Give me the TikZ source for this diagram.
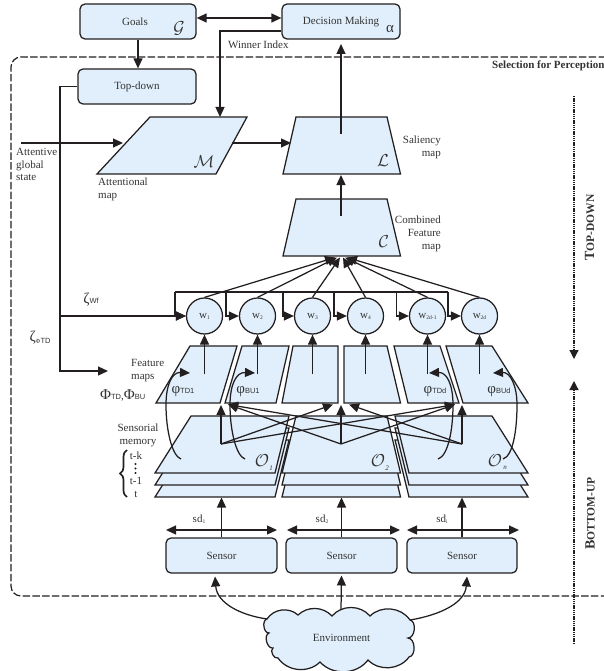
\documentclass[tikz,border=0pt]{standalone}
\usepackage{fontspec}
\setmainfont{Liberation Serif}
\newfontfamily\subsans{Liberation Sans}
\usetikzlibrary{arrows.meta,decorations.pathreplacing}
\definecolor{fillblue}{HTML}{E0EFFB}
\definecolor{ink}{HTML}{231F20}
\definecolor{txt}{HTML}{333333}
\newcommand{\grk}[1]{{\fontsize{15}{15}\selectfont #1}}
\newcommand{\ssub}[1]{{\subsans\fontsize{7.5}{8}\selectfont #1}}
\newcommand{\wsub}[1]{\raisebox{-1pt}{\fontsize{5.5}{6}\selectfont #1}}
\tikzset{
  line/.style={draw=ink,line width=1.25pt},
  arr/.style={line,-{Triangle[length=10pt,width=9pt]}},
  darr/.style={line,{Triangle[length=10pt,width=9pt]}-{Triangle[length=10pt,width=9pt]}},
  box/.style={draw=ink,line width=1.25pt,fill=fillblue,rounded corners=5pt,inner sep=0pt,text=txt,font=\fontsize{11}{13}\selectfont},
  map/.style={draw=ink,line width=1.25pt,fill=fillblue,line join=miter},
  wnode/.style={circle,draw=ink,line width=1.25pt,fill=fillblue,minimum size=36pt,inner sep=0pt,text=txt,font=\fontsize{11}{12}\selectfont},
  tx/.style={text=txt,inner sep=0pt,font=\fontsize{11}{12.6}\selectfont},
  scr/.style={text=txt,inner sep=0pt,font=\fontsize{16}{16}\selectfont},
  osc/.style={text=txt,inner sep=0pt,font=\fontsize{19}{19}\selectfont},
  osb/.style={text=txt,inner sep=0pt,font=\fontsize{7}{7}\selectfont\itshape},
  frame/.style={draw=ink,line width=1.2pt,dash pattern=on 7.5pt off 2.3pt,rounded corners=10pt},
  dotline/.style={draw=ink,line width=1.2pt,dash pattern=on 1.4pt off 0.8pt},
  dottip/.style={-{Triangle[length=9pt,width=9pt]}}
}
\begin{document}
\begin{tikzpicture}[x=1pt,y=-1pt]
\useasboundingbox (0,0) rectangle (604,671);
% frame
\draw[frame] (606,57) -- (11,57) -- (11,596) -- (606,596);
% dotted direction lines
\coordinate (tdA) at (574,96); \coordinate (tdB) at (574,359);
\coordinate (buA) at (574,644); \coordinate (buB) at (574,381);
\draw[dotline,dottip] (tdA) -- (tdB);
\draw[dotline,dottip] (buA) -- (buB);
\node[tx,rotate=90] (tdlabel) at (589.5,227.5) {\textbf{{\fontsize{14}{14}\selectfont T}{\fontsize{11.5}{14}\selectfont OP-DOWN}}};
\node[tx,rotate=90] (bulabel) at (590,513.5) {\textbf{{\fontsize{14}{14}\selectfont B}{\fontsize{11.5}{14}\selectfont OTTOM-UP}}};
\node[tx,anchor=west,font=\fontsize{11}{12}\selectfont\bfseries] (sel) at (492,66) {Selection for Perception};
% boxes
\node[box,minimum width=116pt,minimum height=35pt] (goals) at (138,21.5) {Goals\kern6pt};
\node[box,minimum width=118pt,minimum height=35pt] (dm) at (341,21.5) {Decision Making};
\node[box,minimum width=118pt,minimum height=35pt] (top) at (137,86.5) {Top-down};
\node[scr] (gl) at (179,28) {$\mathcal{G}$};
\node[tx,font=\fontsize{15}{15}\selectfont] (al) at (390,29) {α};
% maps
\draw[map] (150,117) -- (247,117) -- (216,174) -- (97,174) -- cycle;
\draw[map] (296,117) -- (387,117) -- (400.5,174) -- (283,174) -- cycle;
\draw[map] (296,199) -- (387,199) -- (400.5,256) -- (283,256) -- cycle;
\node[scr] (ml) at (204,162) {$\mathcal{M}$};
\node[scr] (ll) at (383,161) {$\mathcal{L}$};
\node[scr] (cl) at (384,242) {$\mathcal{C}$};
% feature maps
\draw[map] (190,346) -- (237,346) -- (220,403) -- (156,403) -- cycle;
\draw[map] (242,346) -- (289,346) -- (276,403) -- (225,403) -- cycle;
\draw[map] (293,346) -- (338,346) -- (338,403) -- (282,403) -- cycle;
\draw[map] (344,346) -- (387,346) -- (400.5,403) -- (344,403) -- cycle;
\draw[map] (394,346) -- (440,346) -- (459,403) -- (408,403) -- cycle;
\draw[map] (446,346) -- (492,346) -- (528,403) -- (463,403) -- cycle;
% sensorial stacks
\foreach \d in {24,12,0}{
  \draw[map] (191,416+\d) -- (289,416+\d) -- (275,473+\d) -- (155,473+\d) -- cycle;
  \draw[map] (296,416+\d) -- (387,416+\d) -- (400.5,473+\d) -- (282,473+\d) -- cycle;
  \draw[map] (395,416+\d) -- (492,416+\d) -- (528,473+\d) -- (409,473+\d) -- cycle;
}
\node[osc] (o1) at (262,461) {$\mathcal{O}$};
\node[osb] (o1s) at (271,468) {1};
\node[osc] (o2) at (378,461) {$\mathcal{O}$};
\node[osb] (o2s) at (387,468) {2};
\node[osc] (o3) at (495,461) {$\mathcal{O}$};
\node[osb] (o3s) at (505,468) {n};
% weights
\node[wnode] (w1) at (204.5,316) {w\wsub{1}};
\node[wnode] (w2) at (257.5,316) {w\wsub{2}};
\node[wnode] (w3) at (312.5,316) {w\wsub{3}};
\node[wnode] (w4) at (365.5,316) {w\wsub{4}};
\node[wnode] (w5) at (427.5,316) {w\wsub{2d-1}};
\node[wnode] (w6) at (479.5,316) {w\wsub{2d}};
% sensors
\node[box,minimum width=111pt,minimum height=35pt] (s1) at (221.5,555.5) {Sensor};
\node[box,minimum width=111pt,minimum height=35pt] (s2) at (341.5,555.5) {Sensor};
\node[box,minimum width=110pt,minimum height=35pt] (s3) at (462,555.5) {Sensor};
% environment cloud
\coordinate (eL) at (267,619); \coordinate (eT) at (341,610); \coordinate (eR) at (410,620);
\path[draw=ink,line width=1.25pt,fill=fillblue]
  (eL) to[bend left=50] (298,615) to[bend left=45] (332,616)
  to[bend left=50] (370,616) to[bend left=50] (eR)
  to[bend left=85] (408,638) to[bend left=85] (409,657)
  to[bend left=50] (368,660) to[bend left=50] (320,662)
  to[bend left=50] (278,658) to[bend left=85] (273,648)
  to[bend left=85] (269,633) to[bend left=85] (eL) -- cycle;
\node[tx,inner sep=0pt] (env) at (341.5,638) {Environment};
% top connectors
\draw[darr] (goals.east |- 0,18) -- (dm.west |- 0,18);
\draw[arr] (goals.south) -- (goals.south |- top.north);
\coordinate (wc) at (220,31); \coordinate (mtop) at (220,117);
\draw[arr] (dm.west |- wc) -- (wc) -- (mtop);
\coordinate (zt) at (60,86.5); \coordinate (zb) at (60,371); \coordinate (fmin) at (108,371); \coordinate (zw) at (60,316);
\draw[arr] (top.west) -- (zt) -- (zb) -- (fmin);
\draw[arr] (zw) -- (w1.west);
\coordinate (agA) at (21,143); \coordinate (agB) at (123,143);
\draw[arr] (agA) -- (agB);
\coordinate (mE) at (232,143); \coordinate (lW) at (291,143);
\draw[arr] (mE) -- (lW);
\coordinate (lS) at (341,134); \coordinate (dS) at (341,44);
\draw[arr] (lS) -- (dS);
\coordinate (cS) at (341,216); \coordinate (lB) at (341,175);
\draw[arr] (cS) -- (lB);
% feedback bus
\coordinate (b1) at (175,292); \coordinate (b2) at (226,292); \coordinate (b3) at (283,292);
\coordinate (b4) at (334,292); \coordinate (b5) at (396.5,292); \coordinate (b6) at (448,292);
\draw[line] (b1) -- (b6);
\foreach \b/\w in {b1/w1,b2/w2,b3/w3,b4/w4,b5/w5,b6/w6}{\draw[arr] (\b) |- (\w.west);}
% into combined map
\coordinate (ct1) at (335,257.5); \coordinate (ct2) at (337,257.5); \coordinate (ct3) at (340,257.5);
\coordinate (ct4) at (343,257.5); \coordinate (ct5) at (345,257.5); \coordinate (ct6) at (347,257.5);
\draw[arr] (w1.north) -- (ct1);
\draw[arr] (w2.north) -- (ct2);
\draw[arr] (w3.north) -- (ct3);
\draw[arr] (w4.north) -- (ct4);
\draw[arr] (w5.north) -- (ct5);
\draw[arr] (w6.north) -- (ct6);
% features to weights
\foreach \x/\w/\n in {204.5/w1/1,257.5/w2/2,312.5/w3/3,365.5/w4/4,427.5/w5/5,479.5/w6/6}{
  \coordinate (fu\n) at (\x,374);
  \draw[arr] (fu\n) -- (\w.south);
}
% stacks to gaps
\coordinate (sa) at (221,444); \coordinate (sb) at (341,444); \coordinate (sc) at (462,444);
\coordinate (ga) at (221,405); \coordinate (gb) at (341,405); \coordinate (gc) at (462,405);
\coordinate (ga2) at (228,404.5); \coordinate (gb1) at (333,404.5); \coordinate (gb2) at (349,404.5); \coordinate (gc2) at (455,404.5);
\draw[arr] (sa) -- (ga);
\draw[arr] (sb) -- (gb);
\draw[arr] (sc) -- (gc);
\draw[arr] (sa) -- (gb1);
\draw[arr] (sa) -- (gc2);
\draw[arr] (sb) -- (ga2);
\draw[arr] (sb) -- (gc2);
\draw[arr] (sc) -- (ga2);
\draw[arr] (sc) -- (gb2);
% phi curves
\coordinate (p1a) at (181,459); \coordinate (p1m) at (166,405); \coordinate (p1b) at (190,373);
\coordinate (p2a) at (245,459); \coordinate (p2m) at (230,405); \coordinate (p2b) at (255,373);
\coordinate (p3a) at (438,459); \coordinate (p3m) at (453,405); \coordinate (p3b) at (429,373);
\coordinate (p4a) at (503,459); \coordinate (p4m) at (517,405); \coordinate (p4b) at (493,373);
\draw[arr] (p1a) .. controls (172,456) and (166,430) .. (p1m) .. controls (166,385) and (172,372) .. (p1b);
\draw[arr] (p2a) .. controls (236,456) and (230,430) .. (p2m) .. controls (230,385) and (236,372) .. (p2b);
\draw[arr] (p3a) .. controls (448,456) and (453,430) .. (p3m) .. controls (453,385) and (447,372) .. (p3b);
\draw[arr] (p4a) .. controls (513,456) and (517,430) .. (p4m) .. controls (517,385) and (510,372) .. (p4b);
% sensors
\draw[darr] (166,530) -- (277,530);
\draw[darr] (287,530) -- (400,530);
\draw[darr] (407,530) -- (519,530);
\coordinate (st1) at (221.5,497.5); \coordinate (st2) at (341.5,497.5); \coordinate (st3) at (462,497.5);
\draw[arr] (s1.north) -- (st1);
\draw[arr] (s2.north) -- (st2);
\draw[arr] (s3.north) -- (st3);
% environment to sensors
\coordinate (i1) at (215,576.5); \coordinate (i2) at (341.5,575.5); \coordinate (i3) at (467,576.5);
\draw[arr] (eL) .. controls (240,615) and (217,603) .. (i1);
\draw[arr] (eT) -- (i2);
\draw[arr] (eR) .. controls (440,615) and (465,603) .. (i3);
% labels
\node[tx,anchor=west] (winlab) at (228,45) {Winner Index};
\node[tx,anchor=north west,align=left] (aglab) at (16,148) {Attentive\\global\\state};
\node[tx,anchor=north west,align=left] (amlab) at (98,178) {Attentional\\map};
\node[tx,anchor=north east,align=right] (sallab) at (441,136) {Saliency\\map};
\node[tx,anchor=north east,align=right] (comlab) at (441,216) {Combined\\Feature\\map};
\node[tx,anchor=north west,align=left] (fmlab) at (131,359) {Feature\\maps};
\node[tx,align=center,anchor=north] (smlab) at (138,424) {Sensorial\\memory};
\node[tx,anchor=west] (philab) at (100,395) {\grk{Φ}\ssub{TD},\grk{Φ}\ssub{BU}};
\node[tx] (zwlab) at (91,300) {\grk{ζ}\ssub{Wf}};
\node[tx] (zplab) at (40,338) {\grk{ζ}\raisebox{-2pt}{\ssub{\fontsize{6}{6}\selectfont Φ}\ssub{TD}}};
\node[tx] (p1lab) at (183,392) {\grk{φ}\ssub{TD1}};
\node[tx] (p2lab) at (248,392) {\grk{φ}\ssub{BU1}};
\node[tx] (p3lab) at (435,392) {\grk{φ}\ssub{TDd}};
\node[tx] (p4lab) at (499,392) {\grk{φ}\ssub{BUd}};
\node[tx] (tk) at (136,456) {t-k};
\node[tx] (tm) at (136,481) {t-1};
\node[tx] (tt) at (136,494) {t};
\fill[ink] (135.5,464) circle[radius=1.1] (135.5,468.5) circle[radius=1.1] (135.5,473) circle[radius=1.1];
\coordinate (brT) at (127,450); \coordinate (brB) at (127,497);
\draw[line,line width=1.7pt,decorate,decoration={brace,amplitude=7pt,aspect=0.5}] (brB) -- (brT);
\node[tx] (sd1) at (199,519) {sd\wsub{1}};
\node[tx] (sd2) at (322,519) {sd\wsub{2}};
\node[tx] (sd3) at (442,519) {sd\wsub{i}};
\end{tikzpicture}
\end{document}
